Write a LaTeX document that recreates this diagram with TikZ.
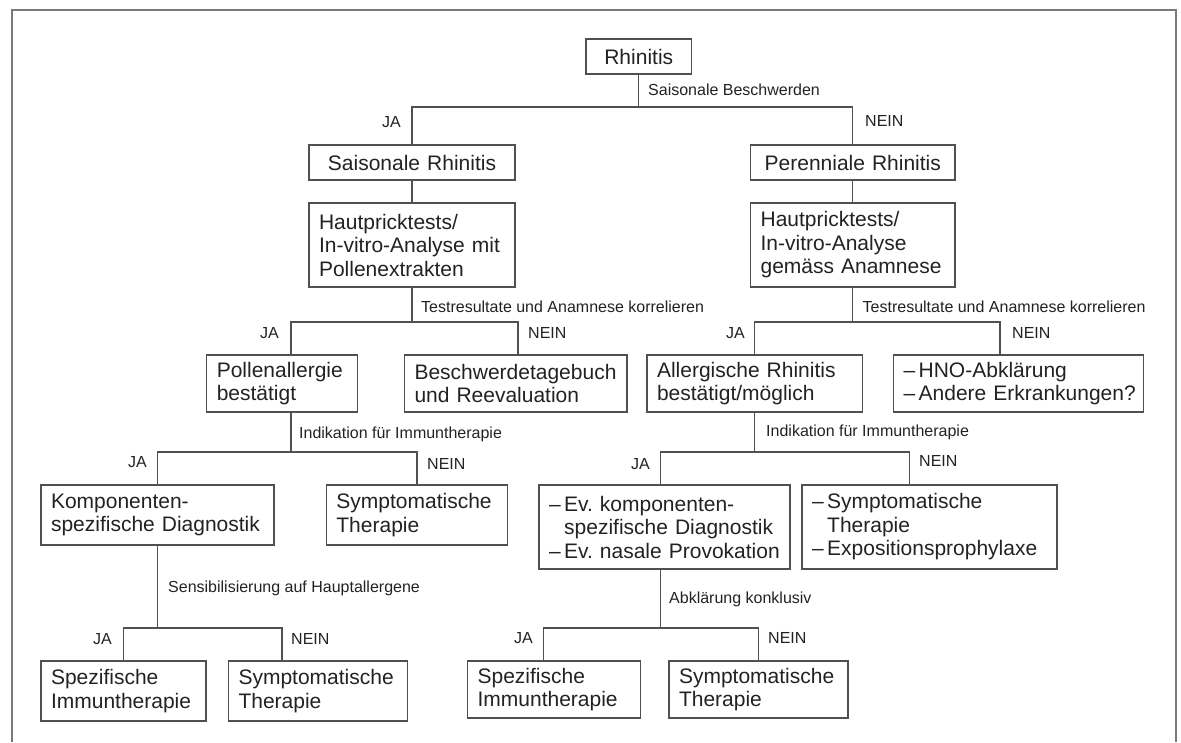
\documentclass[tikz,border=0pt]{standalone}
\usepackage{fontspec}
\setmainfont{Liberation Sans}
\definecolor{ink}{HTML}{222222}
\definecolor{linegray}{HTML}{505050}
\definecolor{framegray}{HTML}{7A7A7A}
\tikzset{
  box/.style 2 args={draw=linegray, line width=1.3pt, inner xsep=10pt, inner ysep=0pt,
    text width=#1pt-20pt, minimum height=#2pt, align=left, text=ink,
    font=\fontsize{21}{23.5}\selectfont,
    execute at begin node={\exhyphenpenalty=10000 \hyphenpenalty=10000 \hfuzz=30pt \hbadness=10000}},
  lab/.style={inner sep=0pt, text=ink, font=\fontsize{16}{19}\selectfont},
  conn/.style={draw=linegray, line width=1.3pt}
}
\begin{document}
\begin{tikzpicture}[x=1pt,y=-1pt]
\useasboundingbox (0,0) rectangle (1181,742);
\draw[framegray, line width=2pt] (11.5,742) -- (11.5,9.5) -- (1175.5,9.5) -- (1175.5,742);
% boxes
\node[box={105.5}{35}, align=center] (rh) at (638.75,56.5){Rhinitis};
\node[box={206}{35}, align=center] (sr) at (412,162.5){Saisonale Rhinitis};
\node[box={204.4}{35}, align=center] (pr) at (852.8,162.5){Perenniale Rhinitis};
\node[box={206}{84}] (ht1) at (412,245){Hautpricktests/\\In-vitro-Analyse~mit\\Pollenextrakten};
\node[box={204.4}{84}] (ht2) at (852.8,245){Hautpricktests/\\In-vitro-Analyse\\gemäss~Anamnese};
\node[box={151}{57}] (pa) at (282.25,383.5){Pollenallergie\\bestätigt};
\node[box={222.5}{57}] (bt) at (515.75,383.5){Beschwerdetagebuch\\und~Reevaluation};
\node[box={215.5}{57}] (ar) at (754.75,383.5){Allergische~Rhinitis\\bestätigt/möglich};
\node[box={250}{57}] (hno) at (1018.5,383.5){–\,HNO-Abklärung\\–\,Andere~Erkrankungen?};
\node[box={233}{60}] (kd) at (157.5,515){Komponenten-\\spezifische~Diagnostik};
\node[box={181.4}{60}] (st1) at (417.1,515){Symptomatische\\Therapie};
\node[box={251}{84}] (ev) at (664.5,527){–\,Ev.~komponenten-\\\hphantom{–\,}spezifische~Diagnostik\\–\,Ev.~nasale~Provokation};
\node[box={255}{84}] (se) at (929.5,527){–\,Symptomatische\\\hphantom{–\,}Therapie\\–\,Expositionsprophylaxe};
\node[box={165}{60}] (si1) at (123.5,691){Spezifische\\Immuntherapie};
\node[box={179}{60}] (st2) at (318,691){Symptomatische\\Therapie};
\node[box={173}{57}] (si2) at (554.1,689.5){Spezifische\\Immuntherapie};
\node[box={179}{57}] (st3) at (758.5,689.5){Symptomatische\\Therapie};
% connectors
\coordinate (j0) at (638.75,107);
\draw[conn](rh) -- (j0);
\draw[conn](j0) -| (sr);
\draw[conn](j0) -| (pr);
\draw[conn](sr) -- (ht1);
\draw[conn](pr) -- (ht2);
\coordinate (j1) at (412,322);
\draw[conn](ht1) -- (j1);
\draw[conn](j1) -| ([xshift=8.75]pa.north);
\draw[conn](j1) -| ([xshift=2.25]bt.north);
\coordinate (j2) at (852.8,322);
\draw[conn](ht2) -- (j2);
\draw[conn](j2) -| (ar);
\draw[conn](j2) -| ([xshift=-18.5]hno.north);
\coordinate (j3) at (291,452);
\draw[conn]([xshift=8.75]pa.south) -- (j3);
\draw[conn](j3) -| (kd);
\draw[conn](j3) -| (st1);
\coordinate (j4) at (754.75,452);
\draw[conn](ar) -- (j4);
\draw[conn](j4) -| ([xshift=-4]ev.north);
\draw[conn](j4) -| ([xshift=-20]se.north);
\coordinate (j5) at (157.5,628);
\draw[conn](kd) -- (j5);
\draw[conn](j5) -| (si1);
\draw[conn](j5) -| ([xshift=-36]st2.north);
\coordinate (j6) at (660.5,628);
\draw[conn]([xshift=-4]ev.south) -- (j6);
\draw[conn](j6) -| ([xshift=-10.7]si2.north);
\draw[conn](j6) -| (st3);
% labels
\node[lab, anchor=base west] (l0) at (648,95){Saisonale Beschwerden};
\node[lab, anchor=base east] (y0) at (401,127){JA};
\node[lab, anchor=base west] (n0) at (865,126){NEIN};
\node[lab, anchor=base west] (l1) at (421,312){Testresultate und Anamnese korrelieren};
\node[lab, anchor=base east] (y1) at (279,338){JA};
\node[lab, anchor=base west] (n1) at (528,338){NEIN};
\node[lab, anchor=base west] (l2) at (862.5,312){Testresultate und Anamnese korrelieren};
\node[lab, anchor=base east] (y2) at (745,338){JA};
\node[lab, anchor=base west] (n2) at (1012,338){NEIN};
\node[lab, anchor=base west] (l3) at (299,438){Indikation für Immuntherapie};
\node[lab, anchor=base east] (y3) at (147,467){JA};
\node[lab, anchor=base west] (n3) at (427,469){NEIN};
\node[lab, anchor=base west] (l4) at (766,436){Indikation für Immuntherapie};
\node[lab, anchor=base east] (y4) at (650,469){JA};
\node[lab, anchor=base west] (n4) at (919,466){NEIN};
\node[lab, anchor=base west] (l5) at (168,592){Sensibilisierung auf Hauptallergene};
\node[lab, anchor=base east] (y5) at (112,644){JA};
\node[lab, anchor=base west] (n5) at (291,644){NEIN};
\node[lab, anchor=base west] (l6) at (669,603){Abklärung konklusiv};
\node[lab, anchor=base east] (y6) at (533,643){JA};
\node[lab, anchor=base west] (n6) at (768,643){NEIN};
\end{tikzpicture}
\end{document}
